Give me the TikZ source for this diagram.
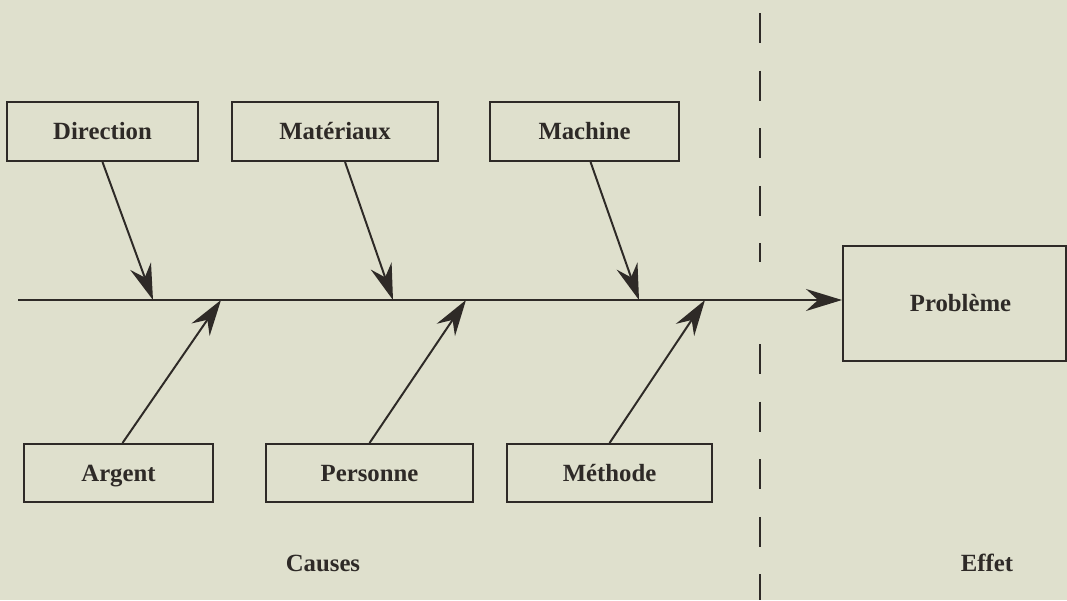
\documentclass[tikz,border=0pt]{standalone}
\usepackage{fontspec}
\setmainfont{Liberation Serif}
\usepackage{tikz}
\usetikzlibrary{arrows.meta, positioning}
\definecolor{paper}{HTML}{DFE0CD}
\definecolor{ink}{HTML}{2E2A27}

\begin{document}
\begin{tikzpicture}[
    x=0.025cm, y=-0.025cm,
    every node/.style={font=\fontsize{17.6}{20}\selectfont\bfseries, text=ink},
    cause/.style={draw=ink, line width=1.4pt, inner sep=0pt, minimum height=1.475cm, text height=13pt, text depth=1.5pt},
    arr/.style={-{Stealth[length=9mm, width=5.5mm, inset=3mm]}, draw=ink, line width=1.4pt},
    sep/.style={draw=ink, line width=1.2pt, dash pattern=on 0.75cm off 0.69cm}
]
\fill[paper] (0,0) rectangle (1067,600);
\useasboundingbox (0,0) rectangle (1067,600);
% top row of causes
\node (dir) [cause, minimum width=4.775cm] at (102.5,131.5) {Direction};
\node (mat) [cause, minimum width=5.15cm, right=0.8cm of dir] {Matériaux};
\node (mac) [cause, minimum width=4.725cm, right=1.25cm of mat] {Machine};
% bottom row of causes
\node (arg) [cause, minimum width=4.725cm, minimum height=1.45cm] at (118.5,473) {Argent};
\node (per) [cause, minimum width=5.175cm, minimum height=1.45cm, right=1.275cm of arg] {Personne};
\node (met) [cause, minimum width=5.125cm, minimum height=1.45cm, right=0.8cm of per] {Méthode};
% effect
\node (prob) [cause, minimum width=5.575cm, minimum height=2.875cm] at (954.5,303.5) {\hspace{0.3cm}Problème};
\node (causes) at (323,563) {Causes};
\node (effet) at (987,563) {Effet};
% spine
\coordinate (tail) at (18,300);
\draw[arr] (tail) -- (tail -| prob.west);
\coordinate (d1) at (153,300);
\coordinate (d2) at (393,300);
\coordinate (d3) at (639,300);
\coordinate (u1) at (221,300);
\coordinate (u2) at (466,300);
\coordinate (u3) at (705,300);
\draw[arr] (dir.south) -- (d1);
\draw[arr] ([xshift=0.25cm]mat.south) -- (d2);
\draw[arr] ([xshift=0.15cm]mac.south) -- (d3);
\draw[arr] ([xshift=0.1cm]arg.north) -- (u1);
\draw[arr] (per.north) -- (u2);
\draw[arr] (met.north) -- (u3);
% separator
\coordinate (sa) at (760,13);
\coordinate (sb) at (760,262);
\coordinate (sc) at (760,344);
\coordinate (sd) at (760,600);
\draw[sep] (sa) -- (sb);
\draw[sep] (sc) -- (sd);
\end{tikzpicture}
\end{document}
